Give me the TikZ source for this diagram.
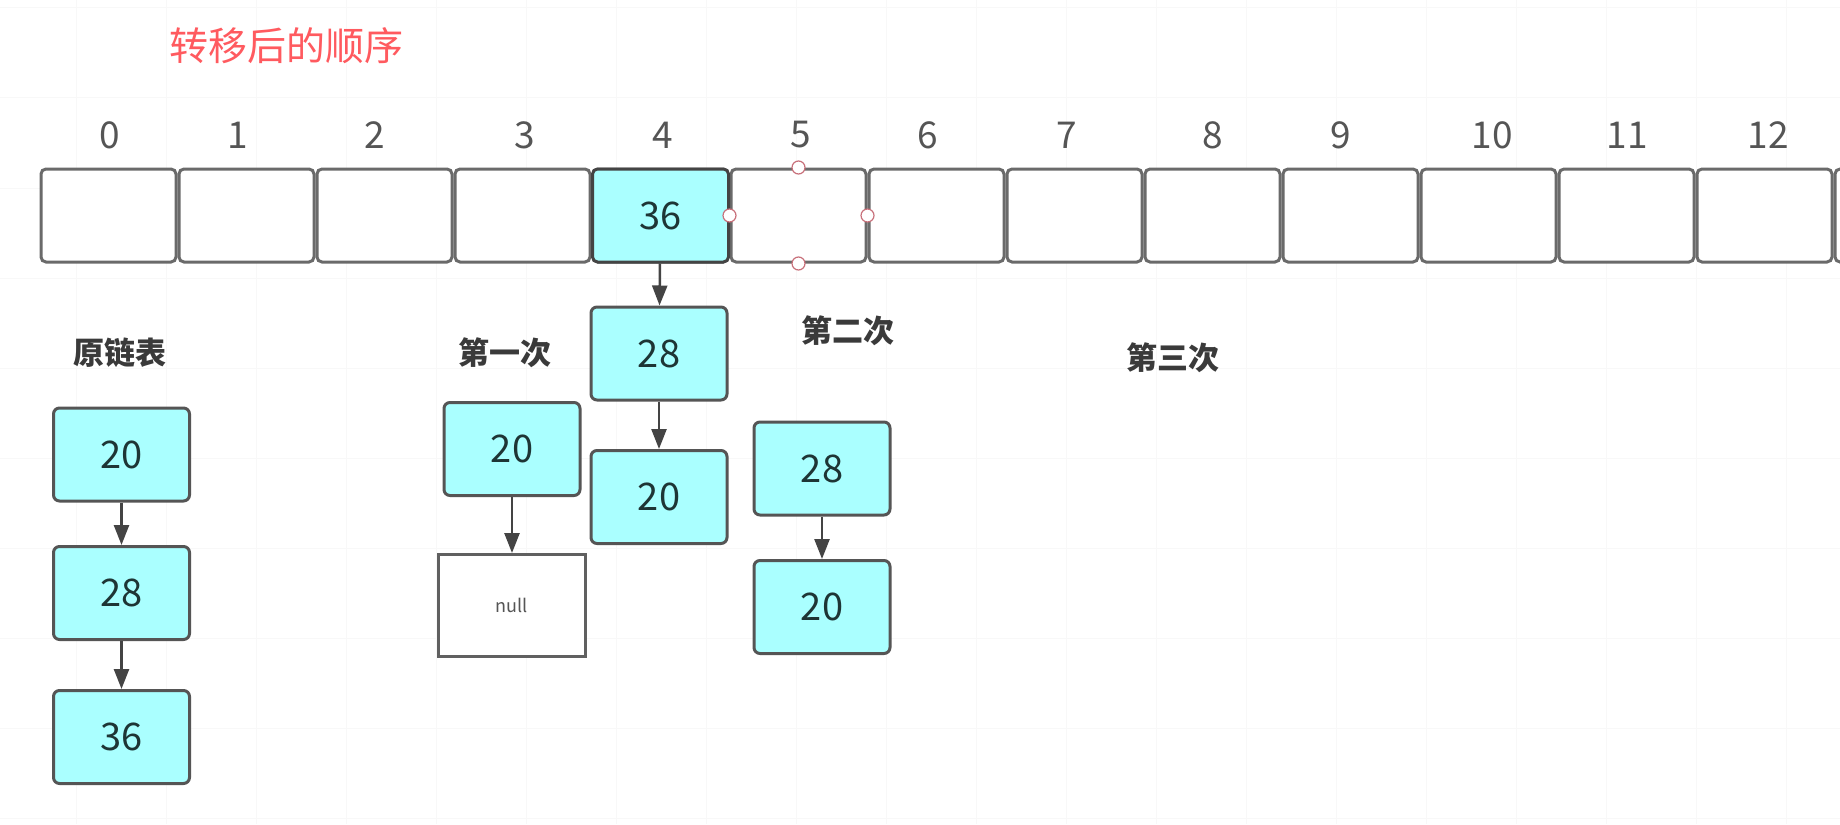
\documentclass[tikz,border=0pt]{standalone}
\usepackage{fontspec}
\setmainfont{Noto Sans CJK SC}
\usetikzlibrary{arrows.meta}
\definecolor{cyanfill}{HTML}{AAFFFF}
\definecolor{nodeborder}{HTML}{555555}
\definecolor{cellborder}{HTML}{6A6A6A}
\definecolor{arrowcol}{HTML}{444444}
\definecolor{titlered}{HTML}{FF5A5F}
\definecolor{labelcol}{HTML}{3A3A3A}
\definecolor{idxcol}{HTML}{555555}
\definecolor{numcol}{HTML}{1E3535}
\definecolor{handlecol}{HTML}{C8707A}
\definecolor{gridcol}{HTML}{F8F8F8}
\tikzset{
  cellbox/.style={draw=cellborder, line width=1.5pt, rounded corners=2.5pt, fill=white,
    minimum width=67.5pt, minimum height=46.5pt, inner sep=0pt,
    font=\fontsize{19}{22}\selectfont, text=numcol},
  listnode/.style={draw=nodeborder, line width=1.5pt, rounded corners=3pt, fill=cyanfill,
    minimum width=68pt, minimum height=46.5pt, inner sep=0pt,
    font=\fontsize{19}{22}\selectfont, text=numcol},
  nullbox/.style={draw=gray!75!black, line width=1.5pt, fill=white,
    minimum width=73.5pt, minimum height=51pt, inner sep=0pt,
    font=\fontsize{9}{11}\selectfont, text=idxcol},
  idxlabel/.style={font=\fontsize{18.5}{22}\selectfont, text=idxcol, inner sep=0pt},
  steplabel/.style={font=\fontsize{15.5}{18}\selectfont\bfseries, text=labelcol, inner sep=0pt},
  handle/.style={circle, draw=handlecol, fill=white, line width=0.6pt, minimum size=6.5pt, inner sep=0pt},
  link/.style={draw=arrowcol, line width=1.25pt, -{Triangle[width=7.5pt,length=10pt]}},
}
\begin{document}
\begin{tikzpicture}[x=0.5pt, y=-0.5pt]
\useasboundingbox (0,0) rectangle (1840,824);
\fill[white] (0,0) rectangle (1840,824);
\clip (0,0) rectangle (1840,824);
% faint background grid
\foreach \gx in {76,166,...,1840} \draw[gridcol, line width=0.5pt] (\gx,0) -- (\gx,824);
\foreach \gy in {8,98,...,824} \draw[gridcol, line width=0.5pt] (0,\gy) -- (1840,\gy);

% title
\node[font=\fontsize{19.5}{23}\selectfont, text=titlered, inner sep=0pt] (title) at (286,46) {转移后的顺序};

% array cells
\foreach \i in {0,...,13} {
  \node[cellbox] (c\i) at ({108.5+138*\i},215.5) {};
}
\node[listnode, rounded corners=2.5pt, draw=arrowcol] (c4) at ({108.5+138*4},215.5) {36};

% index labels
\node[idxlabel] (i0) at (110,135) {0};
\node[idxlabel] (i1) at (238,135) {1};
\node[idxlabel] (i2) at (375,135) {2};
\node[idxlabel] (i3) at (525,135) {3};
\node[idxlabel] (i4) at (663,135) {4};
\node[idxlabel] (i5) at (801,135) {5};
\node[idxlabel] (i6) at (928,135) {6};
\node[idxlabel] (i7) at (1067,135) {7};
\node[idxlabel] (i8) at (1213,135) {8};
\node[idxlabel] (i9) at (1341,135) {9};
\node[idxlabel] (i10) at (1492,135) {10};
\node[idxlabel] (i11) at (1627,135) {11};
\node[idxlabel] (i12) at (1768,135) {12};

% selection handles on cell 5
\node[handle] (h1) at (c5.north) {};
\node[handle] (h2) at (c5.south) {};
\node[handle] (h3) at (c5.west) {};
\node[handle] (h4) at (c5.east) {};

% step labels
\node[steplabel] (l0) at (120,353) {原链表};
\node[steplabel] (l1) at (505,353) {第一次};
\node[steplabel] (l2) at (848,331) {第二次};
\node[steplabel] (l3) at (1173,358) {第三次};

% original list
\node[listnode] (a1) at (121.5,454.5) {20};
\node[listnode] (a2) at (121.5,593) {28};
\node[listnode] (a3) at (121.5,737) {36};
\draw[link] (a1) -- (a2);
\draw[link] (a2) -- (a3);

% first step
\node[listnode] (b1) at (512,449) {20};
\node[nullbox] (b2) at (512,605.5) {null};
\draw[link] (b1) -- (b2);

% chain under bucket 4
\node[listnode] (d1) at (659,353.5) {28};
\node[listnode] (d2) at (659,497) {20};
\draw[link] (c4) -- (d1);
\draw[link] (d1) -- (d2);

% second step
\node[listnode] (e1) at (822,468.5) {28};
\node[listnode] (e2) at (822,607) {20};
\draw[link] (e1) -- (e2);
\end{tikzpicture}
\end{document}
